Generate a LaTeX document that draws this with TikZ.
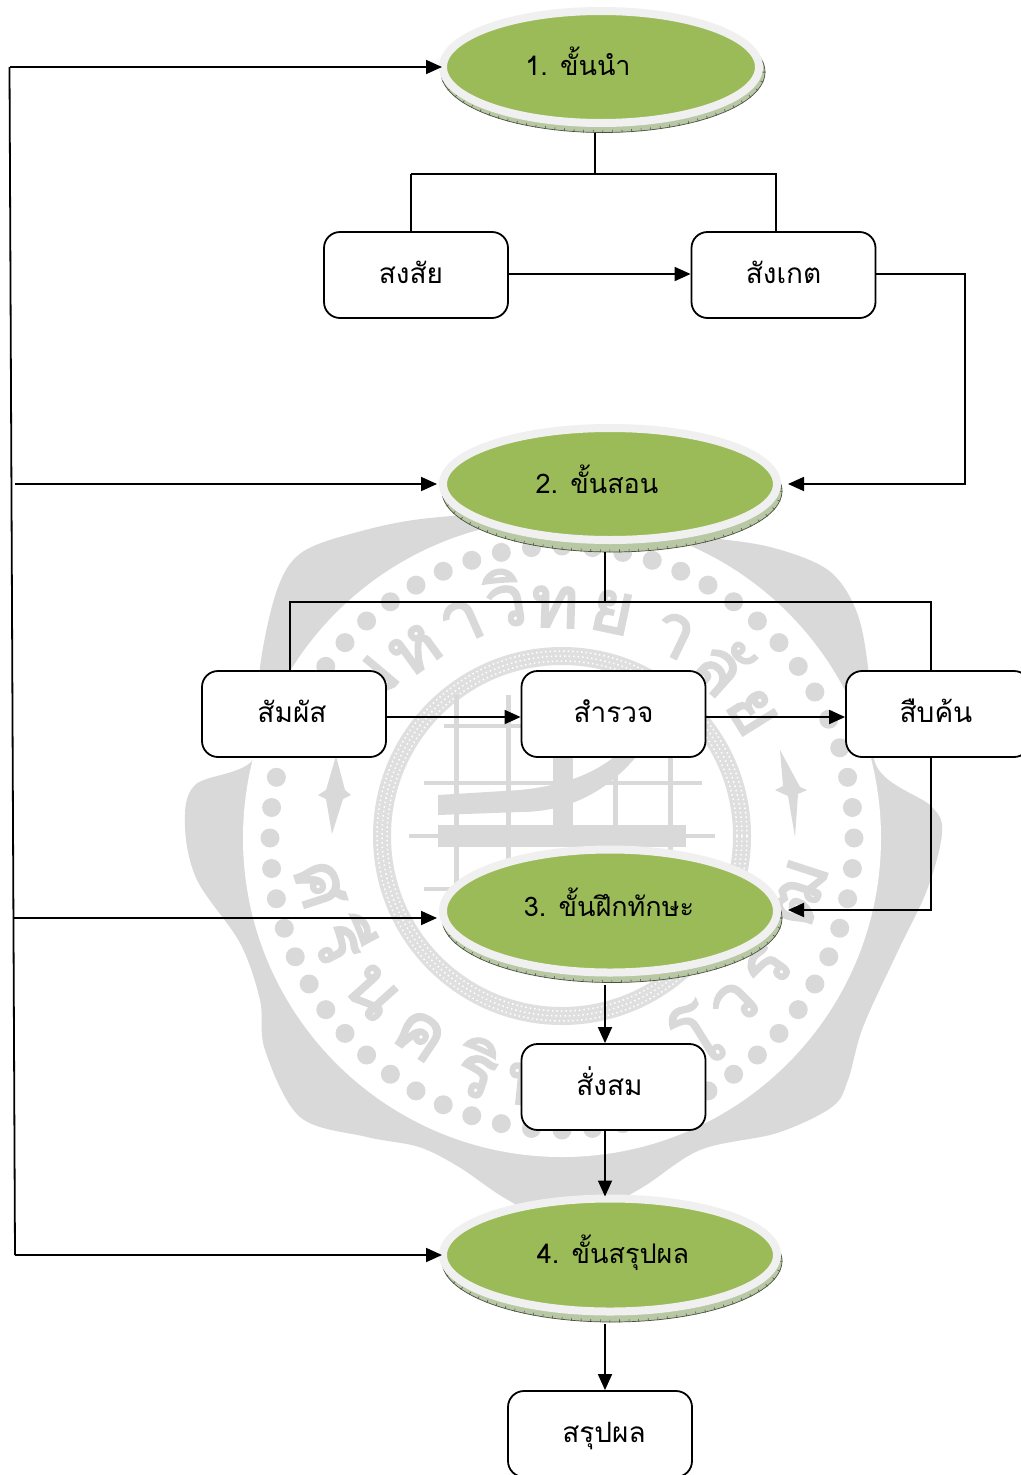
\documentclass[tikz,border=0pt]{standalone}
\usepackage{fontspec}
\newfontfamily\thaifont[Script=Thai]{Loma}
\newfontfamily\wmfont[Script=Thai,FakeBold=3]{Loma}
\usetikzlibrary{arrows.meta,shapes.geometric,calc}
\definecolor{wm}{HTML}{D9D9D9}
\definecolor{ringc}{HTML}{F0F0F0}
\definecolor{leaf}{HTML}{9BBB59}
\definecolor{bevel}{HTML}{B9C8A4}
\newcommand{\tx}[3]{\raisebox{#2}[0pt][0pt]{\hspace*{#1}\makebox[0pt]{#3}\hspace*{-#1}}}
\tikzset{
  conn/.style={draw=black,line width=1.8pt},
  arr/.style={conn,-{Triangle[length=16pt,width=14pt]}},
  stepbox/.style={draw=black,line width=1.8pt,fill=white,rounded corners=16pt,minimum width=184pt,minimum height=86pt,inner sep=0pt,font=\thaifont\fontsize{28}{28}\selectfont},
  stage/.style={ellipse,fill=leaf,draw=ringc,line width=8pt,inner sep=0pt,font=\thaifont\fontsize{27}{27}\selectfont},
  bev/.style={fill=bevel,draw=black!60!bevel,line width=.7pt},
  tick/.style={draw=black!55!bevel,line width=3pt,dash pattern=on .6pt off 9pt},
  wmletter/.style={text=wm,font=\wmfont\fontsize{72}{72}\selectfont,inner sep=0pt},
}
\begin{document}
\begin{tikzpicture}[x=1pt,y=-1pt]
\useasboundingbox (0,0) rectangle (1020,1475);
\begin{scope}
\clip (0,0) rectangle (1020,1475);
\fill[white] (0,0) rectangle (1020,1475);
% --- watermark seal
\fill[wm] plot[smooth cycle,tension=.55] coordinates {
 (564,512) (430,518) (354,533) (301,553) (277,590) (260,667) (255,757) (195,785) (185,826) (197,880)
 (240,943) (260,1000) (265,1050) (300,1117) (367,1137) (419,1147) (459,1167) (508,1200) (565,1225)
 (638,1190) (700,1150) (777,1133) (832,1107) (848,1080) (863,1027) (897,953) (927,890) (942,833)
 (931,806) (876,765) (868,667) (856,610) (828,570) (770,547) (693,535)};
\fill[white] (562,838) circle (319);
\foreach \a in {0,6,...,354} \fill[wm] ($(562,838)+(\a:292 and 292)$) circle (9.5);
\draw[wm!85,line width=18pt] (562,836) circle (180);
\draw[white,line width=1.5pt,dash pattern=on 1.5pt off 3pt] (562,836) circle (185);
\draw[white,line width=1.5pt,dash pattern=on 1.5pt off 3pt] (562,836) circle (180);
\draw[white,line width=1.5pt,dash pattern=on 1.5pt off 3pt] (562,836) circle (175);
% road map
\foreach \vx in {456,508,615,670} \draw[wm,line width=5pt] (\vx,695) -- (\vx,890);
\foreach \hy/\ha/\hb in {726/444/700,783/424/702,836/409/715,889/424/700} \draw[wm,line width=4pt] (\ha,\hy) -- (\hb,\hy);
\fill[wm] (438,795) -- (520,790) .. controls (570,785) and (600,770) .. (620,752) -- (640,752) .. controls (610,790) and (570,812) .. (520,812) -- (438,815) -- cycle;
\fill[wm] (438,825) rectangle (686,847);
\fill[wm] (553,715) rectangle (573,830);
% side ornaments
\fill[wm] (780,750) -- (800,787) -- (807,790) -- (798,794) -- (795,837) -- (788,796) -- (775,790) -- (783,786) -- cycle;
\fill[wm] (336,756) -- (345,790) -- (351,795) -- (343,799) -- (332,834) -- (326,799) -- (318,795) -- (326,790) -- cycle;
% seal lettering
\node[wmletter,rotate=50] (wa) at (372,682) {ม};
\node[wmletter,rotate=36] (wb) at (415,650) {ห};
\node[wmletter,rotate=24] (wc) at (462,622) {า};
\node[wmletter,rotate=10] (wd) at (505,598) {วิ};
\node[wmletter,rotate=-2] (we) at (555,607) {ท};
\node[wmletter,rotate=-12] (wf) at (612,612) {ย};
\node[wmletter,rotate=-26] (wg) at (673,635) {า};
\node[wmletter,rotate=-42] (wh) at (722,665) {ลั};
\node[wmletter,rotate=-58] (wi) at (752,712) {ย};
\node[wmletter,rotate=-72] (wj) at (320,885) {ศ};
\node[wmletter,rotate=-62] (wk) at (345,940) {รี};
\node[wmletter,rotate=-48] (wl) at (372,992) {น};
\node[wmletter,rotate=-34] (wm1) at (420,1035) {ค};
\node[wmletter,rotate=-18] (wn) at (478,1068) {ริ};
\node[wmletter,rotate=-6] (wr) at (530,1085) {น};
\node[wmletter,rotate=32] (wo) at (697,1035) {โ};
\node[wmletter,rotate=45] (wv) at (735,1005) {ว};
\node[wmletter,rotate=55] (wp) at (768,968) {ร};
\node[wmletter,rotate=72] (wq) at (800,893) {ฒ};
\end{scope}
% --- bevels of the stages
\foreach \cx/\cy/\rx/\ry in {603/72/162/60.5, 612/491/170/61, 612/918/170/64.5, 612/1261/170/61} {
  \filldraw[bev] (\cx,\cy) ellipse ({\rx} and {\ry});
  \draw[tick] (\cx,\cy) ellipse ({\rx-1} and {\ry-1});
}
% --- stages
\node[stage,minimum width=316pt,minimum height=112pt] (s1) at (601,67) {\tx{-23pt}{-8pt}{1. ขั้นนำ}};
\node[stage,minimum width=334pt,minimum height=112pt] (s2) at (610,484) {\tx{-13pt}{-9pt}{2. ขั้นสอน}};
\node[stage,minimum width=334pt,minimum height=123pt] (s3) at (610,911) {\tx{-1pt}{-5pt}{3. ขั้นฝึกทักษะ}};
\node[stage,minimum width=334pt,minimum height=113pt] (s4) at (610,1255) {\tx{3pt}{-8pt}{4. ขั้นสรุปผล}};
% --- boxes
\node[stepbox] (b1) at (416,275) {\tx{-5pt}{-8pt}{สงสัย}};
\node[stepbox] (b2) at (783.5,275) {\tx{0pt}{-8pt}{สังเกต}};
\node[stepbox] (b3) at (294,714) {\tx{-2pt}{-8pt}{สัมผัส}};
\node[stepbox] (b4) at (613.5,714) {\tx{0pt}{-8pt}{สำรวจ}};
\node[stepbox] (b5) at (938,714) {\tx{-2pt}{-8pt}{สืบค้น}};
\node[stepbox] (b6) at (613.5,1087) {\tx{-4pt}{-8pt}{สั่งสม}};
\node[stepbox] (b7) at (600,1434) {\tx{4pt}{-8pt}{สรุปผล}};
% --- connector helpers
\coordinate (ja) at (595,174);
\coordinate (jb) at (411,174);
\coordinate (jc) at (776,174);
\coordinate (jd) at (965,274);
\coordinate (je) at (965,484);
\coordinate (jf) at (605,602);
\coordinate (jg) at (290,602);
\coordinate (jh) at (931,602);
\coordinate (ji) at (931,910);
\coordinate (tl) at (9.5,67);
\coordinate (bl) at (15,1255);
\coordinate (mb) at (15,484);
\coordinate (mc) at (13,918);
% --- connectors
\draw[conn] ($(s1.south -| ja)+(0,6)$) -- (ja);
\draw[conn] (s1.south -| jb) ++(0,47) -- (jb -| jc) -- (jc) -- (b2.north -| jc);
\draw[conn] (jb) -- (b1.north -| jb);
\draw[arr] (b1.east |- jd) -- (b2.west |- jd);
\draw[arr] (b2.east |- jd) -- (jd) -- (je) -- ($(s2.east)+(7,0)$);
\draw[conn] ($(s2.south -| jf)+(0,8)$) -- (jf);
\draw[conn] (b3.north -| jg) -- (jg) -- (jh) -- (b5.north -| jh);
\draw[arr] (b3.east) ++(0,3) -- (b4.west |- 0,717);
\draw[arr] (b4.east) ++(0,3) -- (b5.west |- 0,717);
\draw[arr] (b5.south -| ji) -- (ji) -- ($(s3.east |- ji)+(7,0)$);
\draw[arr] ($(s3.south -| jf)+(0,8)$) -- (b6.north -| jf);
\draw[arr] (b6.south -| jf) -- ($(s4.north -| jf)+(0,2)$);
\draw[arr] ($(s4.south -| jf)+(0,8)$) -- (b7.north -| jf);
\draw[arr] (s1.west -| tl) -- ($(s1.west)+(3,0)$);
\draw[conn] (tl) -- (bl);
\draw[arr] (bl) -- ($(s4.west |- bl)+(3,0)$);
\draw[arr] (mb) -- ($(s2.west |- mb)+(-2,0)$);
\draw[arr] (mc) -- ($(s3.west |- mc)+(-2,0)$);
\end{tikzpicture}
\end{document}
